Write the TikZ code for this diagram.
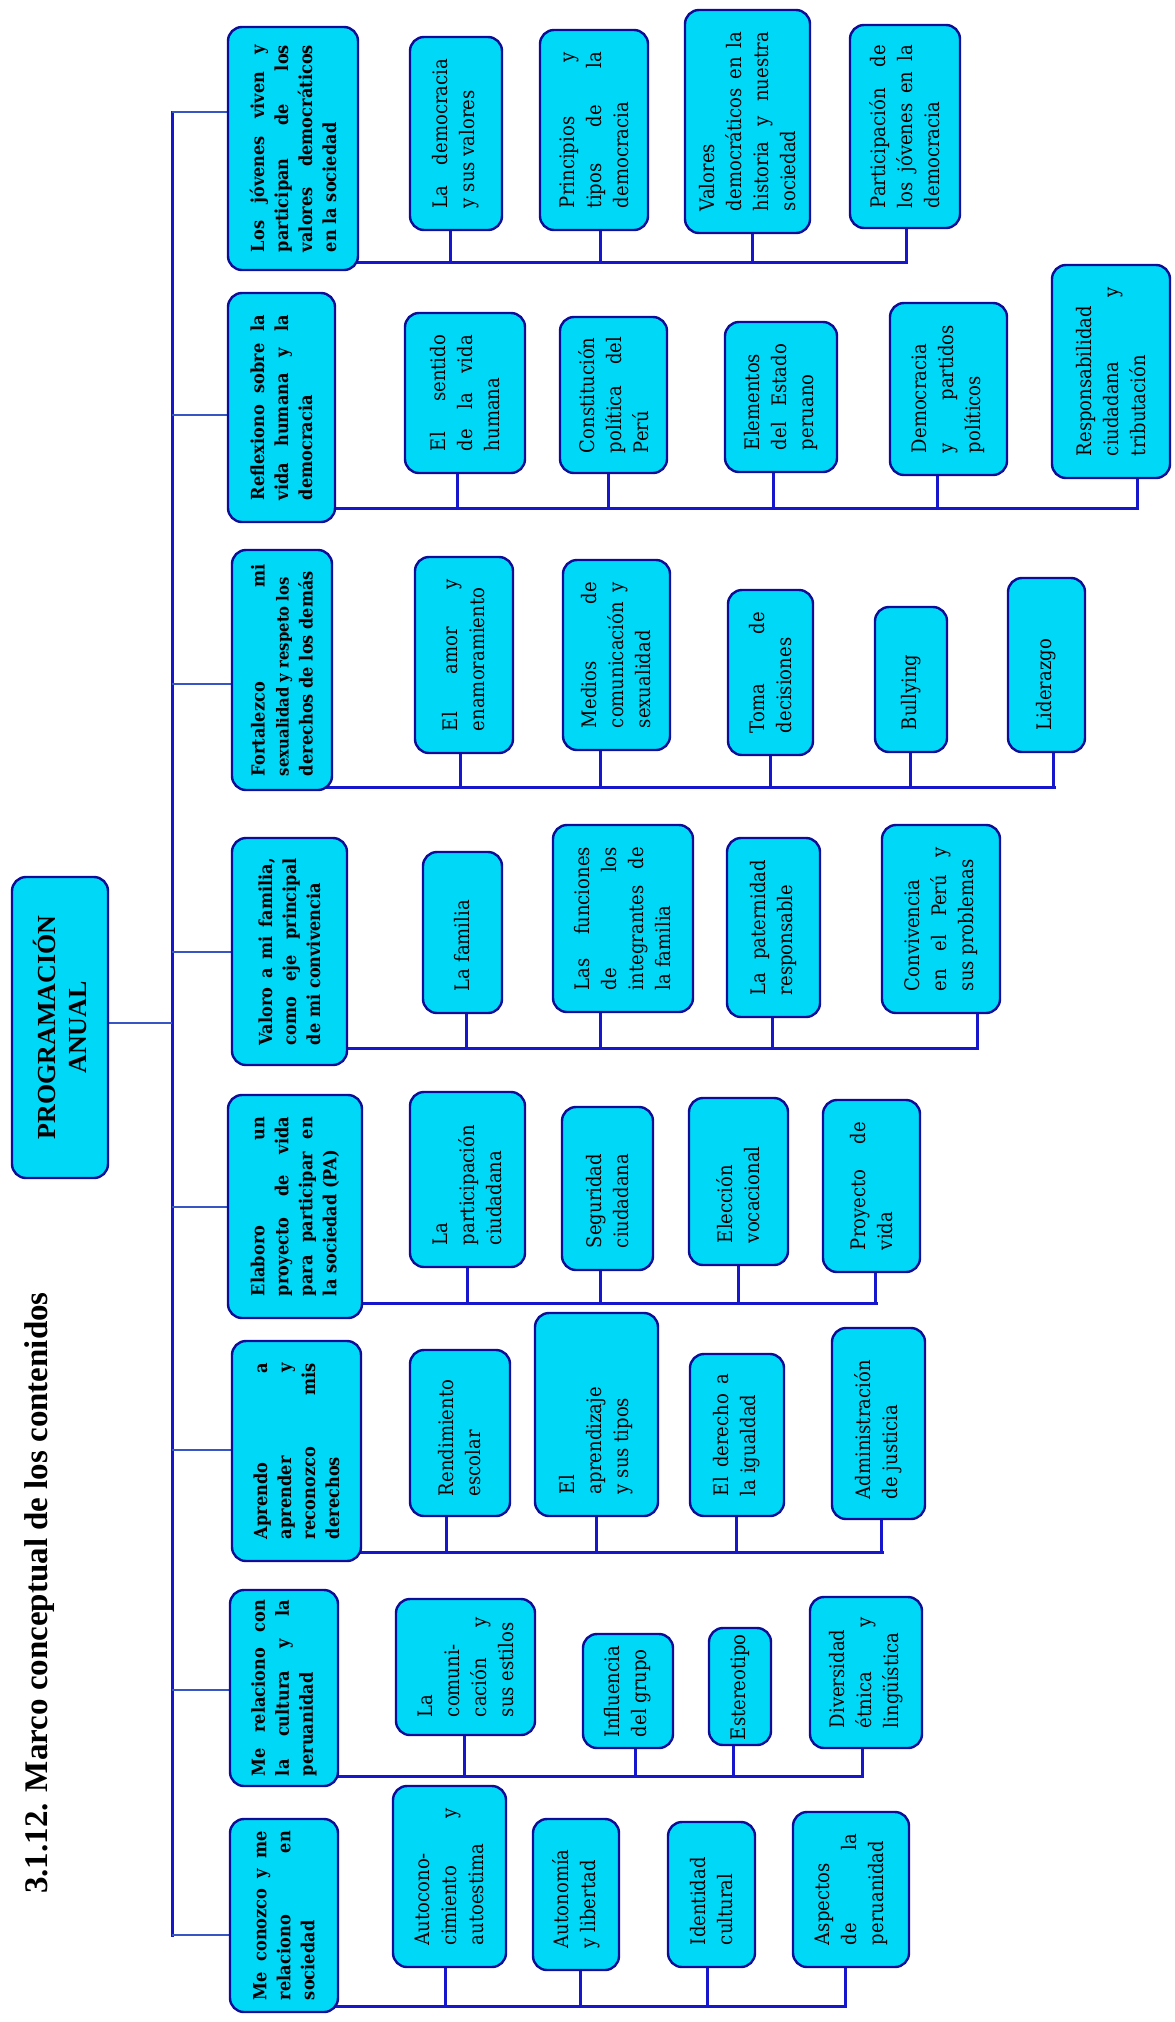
\documentclass[tikz,border=0pt]{standalone}
\usepackage{fontspec}
\setmainfont{Liberation Serif}
\newfontfamily\kidfont{DejaVu Serif Condensed}
\usetikzlibrary{backgrounds}
\hbadness=10000 \hfuzz=6pt \vbadness=10000
\definecolor{boxfill}{RGB}{0,216,248}
\definecolor{boxline}{RGB}{12,12,150}
\definecolor{connblue}{RGB}{22,22,205}
\definecolor{branchblue}{RGB}{55,85,195}
\tikzset{
  box/.style={draw=boxline, fill=boxfill, line width=2.4pt, rounded corners=14pt,
    rotate=90, inner xsep=0pt, inner ysep=2pt, align=justify, text=black},
  mainbox/.style={box, font=\kidfont\bfseries\fontsize{18}{24}\selectfont},
  kidbox/.style={box, font=\kidfont\fontsize{20}{27}\selectfont},
  conn/.style={draw=connblue, line width=3pt, line cap=rect},
  branch/.style={draw=branchblue, line width=2.2pt},
}
\newcommand\mainnode[7]{%
  \pgfmathsetmacro\mynx{(#2+#4)/2}%
  \pgfmathsetmacro\myny{(#3+#5)/2}%
  \pgfmathsetmacro\mynh{#5-#3}%
  \pgfmathsetmacro\mynw{#4-#2}%
  \pgfmathsetmacro\mynt{#5-#3-2*#6}%
  \node[mainbox, minimum width=\mynh pt, minimum height=\mynw pt, text width=\mynt pt] (#1) at (\mynx,\myny) {#7};}
\newcommand\kidnode[7]{%
  \pgfmathsetmacro\mynx{(#2+#4)/2}%
  \pgfmathsetmacro\myny{(#3+#5)/2}%
  \pgfmathsetmacro\mynh{#5-#3}%
  \pgfmathsetmacro\mynw{#4-#2}%
  \pgfmathsetmacro\mynt{#5-#3-2*#6}%
  \node[kidbox, minimum width=\mynh pt, minimum height=\mynw pt, text width=\mynt pt] (#1) at (\mynx,\myny) {#7};}
\newcommand\stem[3]{\draw[conn] ([xshift=#2pt]#1.west) -- ([xshift=#2pt]#1.west |- #3);}
\begin{document}
\begin{tikzpicture}[x=1pt,y=-1pt]
\path[use as bounding box] (0,0) rectangle (1175,2022);

% title
\node[rotate=90, font=\bfseries\fontsize{33}{38}\selectfont] (ttl) at (40,1593) {3.1.12. Marco conceptual de los contenidos};

% root
\node[draw=boxline, fill=boxfill, line width=2.4pt, rounded corners=14pt, rotate=90,
  minimum width=301pt, minimum height=96pt, align=center,
  font=\bfseries\fontsize{26}{31}\selectfont] (pa) at (60,1027.5) {PROGRAMACIÓN\\ANUAL};

% spine coordinates
\coordinate (sp) at (172,1023);
\coordinate (s1) at (172,112);
\coordinate (s2) at (172,415);
\coordinate (s3) at (172,684);
\coordinate (s4) at (172,952);
\coordinate (s5) at (172,1207);
\coordinate (s6) at (172,1450);
\coordinate (s7) at (172,1690);
\coordinate (s8) at (172,1935);
% bus ends
\coordinate (b1) at (906,262);
\coordinate (b2) at (1137,508);
\coordinate (b3) at (1054,787);
\coordinate (b4) at (977,1048);
\coordinate (b5) at (876,1303);
\coordinate (b6) at (882,1552);
\coordinate (b7) at (862,1776);
\coordinate (b8) at (845,2006);

% row 1
\mainnode{m1}{228}{27}{358}{270}{18}{Los jóvenes viven y\linebreak participan de los\linebreak valores democráticos\linebreak en la sociedad}
\kidnode{c11}{410}{37}{502}{230}{22}{La democracia\linebreak y sus valores}
\kidnode{c12}{540}{30}{648}{230}{22}{Principios y\linebreak tipos de la\linebreak democracia}
\kidnode{c13}{685}{10}{810}{233}{22}{Valores\linebreak democráticos en la\linebreak historia y nuestra\linebreak sociedad}
\kidnode{c14}{850}{25}{960}{228}{20}{Participación de\linebreak los jóvenes en la\linebreak democracia}

% row 2
\mainnode{m2}{228}{293}{335}{522}{22}{Reflexiono sobre la\linebreak vida humana y la\linebreak democracia}
\kidnode{c21}{405}{313}{525}{473}{22}{El sentido\linebreak de la vida\linebreak humana}
\kidnode{c22}{560}{317}{667}{473}{20}{Constitución\linebreak política del\linebreak Perú}
\kidnode{c23}{725}{322}{837}{472}{22}{Elementos\linebreak del Estado\linebreak peruano}
\kidnode{c24}{890}{303}{1007}{475}{22}{Democracia\linebreak y partidos\linebreak políticos}
\kidnode{c25}{1052}{265}{1170}{478}{22}{Responsabilidad\linebreak ciudadana y\linebreak tributación}

% row 3
\mainnode{m3}{232}{550}{332}{790}{14}{Fortalezco mi\linebreak \mbox{\fontsize{16.5}{24}\selectfont sexualidad y respeto los}\linebreak derechos de los demás}
\kidnode{c31}{415}{557}{513}{753}{22}{El amor y\linebreak enamoramiento}
\kidnode{c32}{563}{560}{670}{750}{22}{Medios de\linebreak comunicación y\linebreak sexualidad}
\kidnode{c33}{728}{590}{813}{755}{22}{Toma de\linebreak decisiones}
\kidnode{c34}{875}{607}{947}{752}{22}{Bullying}
\kidnode{c35}{1008}{578}{1085}{752}{22}{Liderazgo}

% row 4
\mainnode{m4}{232}{838}{347}{1065}{20}{Valoro a mi familia,\linebreak como eje principal\linebreak de mi convivencia}
\kidnode{c41}{423}{852}{502}{1013}{22}{La familia}
\kidnode{c42}{553}{825}{693}{1012}{22}{Las funciones\linebreak de los\linebreak integrantes de\linebreak la familia}
\kidnode{c43}{727}{838}{820}{1017}{22}{La paternidad\linebreak responsable}
\kidnode{c44}{882}{825}{1000}{1013}{22}{Convivencia\linebreak en el Perú y\linebreak sus problemas}

% row 5
\mainnode{m5}{228}{1095}{362}{1318}{22}{Elaboro un\linebreak proyecto de vida\linebreak para participar en\linebreak la sociedad (PA)}
\kidnode{c51}{410}{1092}{525}{1267}{22}{La\linebreak participación\linebreak ciudadana}
\kidnode{c52}{562}{1107}{653}{1270}{22}{Seguridad\linebreak ciudadana}
\kidnode{c53}{689}{1098}{788}{1265}{22}{Elección\linebreak vocacional}
\kidnode{c54}{823}{1100}{920}{1272}{22}{Proyecto de\linebreak vida}

% row 6
\mainnode{m6}{232}{1341}{361}{1561}{22}{Aprendo a\linebreak aprender y\linebreak reconozco mis\linebreak derechos}
\kidnode{c61}{410}{1350}{510}{1516}{20}{Rendimiento\linebreak escolar}
\kidnode{c62}{535}{1313}{658}{1516}{22}{El\linebreak aprendizaje\linebreak y sus tipos}
\kidnode{c63}{690}{1354}{784}{1516}{20}{El derecho a\linebreak la igualdad}
\kidnode{c64}{832}{1328}{925}{1519}{20}{Administración\linebreak de justicia}

% row 7
\mainnode{m7}{230}{1590}{338}{1786}{10}{Me relaciono con\linebreak la cultura y la\linebreak peruanidad}
\kidnode{c71}{396}{1599}{535}{1735}{18}{La\linebreak comuni-\linebreak cación y\linebreak sus estilos}
\kidnode{c72}{583}{1634}{673}{1748}{11}{Influencia\linebreak del grupo}
\kidnode{c73}{709}{1628}{771}{1745}{5}{Estereotipo}
\kidnode{c74}{810}{1597}{922}{1748}{20}{Diversidad\linebreak étnica y\linebreak lingüística}

% row 8
\mainnode{m8}{230}{1819}{338}{2012}{12}{Me conozco y me\linebreak relaciono en\linebreak sociedad}
\kidnode{c81}{393}{1786}{506}{1967}{22}{Autocono-\linebreak cimiento y\linebreak autoestima}
\kidnode{c82}{533}{1819}{619}{1970}{22}{Autonomía\linebreak y libertad}
\kidnode{c83}{668}{1822}{755}{1967}{22}{Identidad\linebreak cultural}
\kidnode{c84}{793}{1812}{909}{1967}{22}{Aspectos\linebreak de la\linebreak peruanidad}

\begin{scope}[on background layer]
  \draw[conn] (s1) -- (s8);
  \draw[branch] (pa.south |- sp) -- (sp);
  \foreach \i in {1,...,8} {\draw[branch] (s\i) -- (m\i.north |- s\i);}
  \foreach \i in {1,...,8} {\draw[conn, shorten <=-6pt] (m\i.south |- b\i) -- (b\i);}
  \stem{c11}{-6}{b1} \stem{c12}{6}{b1} \stem{c13}{5}{b1} \stem{c14}{1}{b1}
  \stem{c21}{-8}{b2} \stem{c22}{-5}{b2} \stem{c23}{-8}{b2} \stem{c24}{-11}{b2} \stem{c25}{26}{b2}
  \stem{c31}{-4}{b3} \stem{c32}{-16}{b3} \stem{c33}{0}{b3} \stem{c34}{-1}{b3} \stem{c35}{7}{b3}
  \stem{c41}{4}{b4} \stem{c42}{-23}{b4} \stem{c43}{-1}{b4} \stem{c44}{36}{b4}
  \stem{c51}{0}{b5} \stem{c52}{-7}{b5} \stem{c53}{0}{b5} \stem{c54}{4}{b5}
  \stem{c61}{-14}{b6} \stem{c62}{0}{b6} \stem{c63}{-1}{b6} \stem{c64}{3}{b6}
  \stem{c71}{-1}{b7} \stem{c72}{7}{b7} \stem{c73}{-7}{b7} \stem{c74}{-4}{b7}
  \stem{c81}{-4}{b8} \stem{c82}{4}{b8} \stem{c83}{-4}{b8} \stem{c84}{-6}{b8}
\end{scope}
\end{tikzpicture}
\end{document}
